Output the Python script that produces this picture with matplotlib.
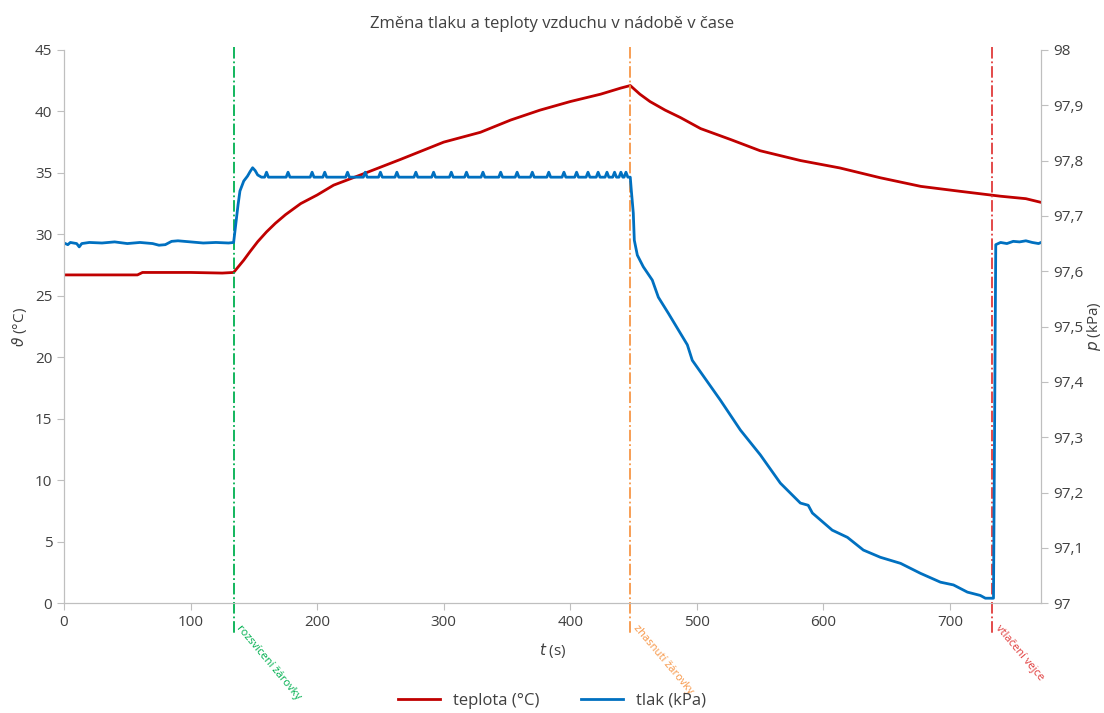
import matplotlib.pyplot as plt
from matplotlib.ticker import FuncFormatter

plt.rcParams['font.family'] = ['Open Sans', 'DejaVu Sans']

# teplota (°C)
t_T = [0, 30, 58, 62, 100, 125, 134, 138, 142, 147, 153, 160, 167, 175, 187, 200, 213, 236, 266,
       300, 329, 353, 376, 400, 424, 440, 447.4,
       455, 463, 475, 487, 503, 527, 550, 582, 613, 645, 677, 708, 740, 760, 772]
T = [26.7, 26.7, 26.7, 26.9, 26.9, 26.85, 26.9, 27.4, 27.9, 28.6, 29.4, 30.2, 30.9, 31.6, 32.5, 33.2, 34.0, 34.9, 36.1,
     37.5, 38.3, 39.3, 40.1, 40.8, 41.4, 41.9, 42.1,
     41.4, 40.8, 40.1, 39.5, 38.6, 37.7, 36.8, 36.0, 35.4, 34.6, 33.9, 33.5, 33.1, 32.9, 32.6]

# tlak (kPa)
t_p = [0, 3, 5, 10, 12, 14, 20, 30, 40, 50, 60, 70, 75, 80, 85, 90, 100, 110, 120, 130, 134,
       136, 137.5, 139, 142, 145, 147, 149, 151, 153, 156,
       158.5, 160, 161.5, 175.5, 177, 178.5, 194.5, 196, 197.5, 204.5, 206, 207.5,
       222.5, 224, 225.5, 236.5, 238, 239.5, 248.5, 250, 251.5, 261.5, 263, 264.5,
       276.5, 278, 279.5, 290.5, 292, 293.5, 304.5, 306, 307.5, 316.5, 318, 319.5,
       329.5, 331, 332.5, 343.5, 345, 346.5, 356.5, 358, 359.5, 368.5, 370, 371.5,
       381.5, 383, 384.5, 393.5, 395, 396.5, 403.5, 405, 406.5, 412.5, 414, 415.5,
       420.5, 422, 423.5, 427.5, 429, 430.5, 433.5, 435, 436.5, 438.5, 440, 441.5,
       442.5, 444, 445.5, 447.4,
       448.2, 449.8, 450.6, 453.0, 457.7, 464.8, 469.6, 477.5, 483.0, 492.5, 496.4,
       518.6, 534.4, 550.2, 566, 581.8, 588, 591.3, 607, 619, 631.6, 645, 661,
       676.7, 692.5, 702.8, 713.8, 724, 728, 732, 734.4,
       735.5, 736.2, 740, 745, 750, 755, 760, 765, 770, 772]
p = [97.651, 97.648, 97.652, 97.650, 97.644, 97.650, 97.652, 97.651, 97.653, 97.650, 97.652,
     97.650, 97.647, 97.648, 97.654, 97.655, 97.653, 97.651, 97.652, 97.651, 97.652,
     97.690, 97.720, 97.745, 97.763, 97.772, 97.780, 97.787, 97.782, 97.774, 97.770,
     97.770, 97.779, 97.770, 97.770, 97.779, 97.770, 97.770, 97.779, 97.770, 97.770, 97.779, 97.770,
     97.770, 97.779, 97.770, 97.770, 97.779, 97.770, 97.770, 97.779, 97.770, 97.770, 97.779, 97.770,
     97.770, 97.779, 97.770, 97.770, 97.779, 97.770, 97.770, 97.779, 97.770, 97.770, 97.779, 97.770,
     97.770, 97.779, 97.770, 97.770, 97.779, 97.770, 97.770, 97.779, 97.770, 97.770, 97.779, 97.770,
     97.770, 97.779, 97.770, 97.770, 97.779, 97.770, 97.770, 97.779, 97.770, 97.770, 97.779, 97.770,
     97.770, 97.779, 97.770, 97.770, 97.779, 97.770, 97.770, 97.779, 97.770, 97.770, 97.779, 97.770,
     97.770, 97.779, 97.770, 97.770,
     97.747, 97.705, 97.656, 97.629, 97.608, 97.584, 97.553, 97.524, 97.503, 97.467, 97.439,
     97.367, 97.313, 97.268, 97.217, 97.181, 97.177, 97.163, 97.132, 97.119, 97.096, 97.083, 97.072,
     97.054, 97.038, 97.033, 97.020, 97.014, 97.009, 97.009, 97.009,
     97.400, 97.648, 97.652, 97.650, 97.654, 97.653, 97.655, 97.652, 97.650, 97.652]

# události
t_udalosti = [134, 447.4, 733.5]
popisky = ['rozsvícení žárovky', 'zhasnutí žárovky', 'vtlačení vejce']
barvy_udalosti = ['#00b050', '#f79646', '#e03c3c']

x_ticks = [0, 100, 200, 300, 400, 500, 600, 700]
y_ticks = [0, 5, 10, 15, 20, 25, 30, 35, 40, 45]
p_ticks = [97.0, 97.1, 97.2, 97.3, 97.4, 97.5, 97.6, 97.7, 97.8, 97.9, 98.0]

sediva = '#bfbfbf'
text_barva = '#404040'

fig = plt.figure(figsize=(11.04, 7.13), dpi=100)
ax = fig.add_axes([0.058, 0.154, 0.885, 0.776])
ax2 = ax.twinx()

l1, = ax.plot(t_T, T, color='#c00000', lw=2, label='teplota (°C)')
l2, = ax2.plot(t_p, p, color='#0070c0', lw=2, label='tlak (kPa)')

ax.set_xlim(0, 772)
ax.set_ylim(0, 45)
ax2.set_ylim(97, 98)
ax.set_xticks(x_ticks)
ax.set_yticks(y_ticks)
ax2.set_yticks(p_ticks)
ax2.yaxis.set_major_formatter(FuncFormatter(
    lambda v, pos: ('%g' % round(v, 1)).replace('.', ',')))

for a in (ax, ax2):
    for s in a.spines.values():
        s.set_color(sediva)
    a.spines['top'].set_visible(False)
    a.tick_params(colors=sediva, labelcolor=text_barva, labelsize=11, length=5)

ax.set_xlabel('$\\mathit{t}$ (s)', fontsize=11, color=text_barva, labelpad=8)
ax.set_ylabel('$\\mathit{\\vartheta}$ (°C)', fontsize=11, color=text_barva, labelpad=4)
ax2.set_ylabel('$\\mathit{p}$ (kPa)', fontsize=11, color=text_barva, labelpad=1)
ax.set_title('Změna tlaku a teploty vzduchu v nádobě v čase', fontsize=12,
             color=text_barva, pad=16)

for tu, txt, c in zip(t_udalosti, popisky, barvy_udalosti):
    ax.plot([tu, tu], [45.2, -2.6], color=c, lw=1.3, ls='-.', clip_on=False, zorder=5)
    ax.text(tu + 0.5, -2.2, txt, color=c, fontsize=8, rotation=-50,
            rotation_mode='anchor', ha='left', va='bottom')

fig.legend(handles=[l1, l2], loc='lower center', bbox_to_anchor=(0.5, -0.015),
           ncol=2, frameon=False, fontsize=12, handlelength=2.5, columnspacing=2.5,
           labelcolor=text_barva)

plt.savefig('out.png', dpi=100)
